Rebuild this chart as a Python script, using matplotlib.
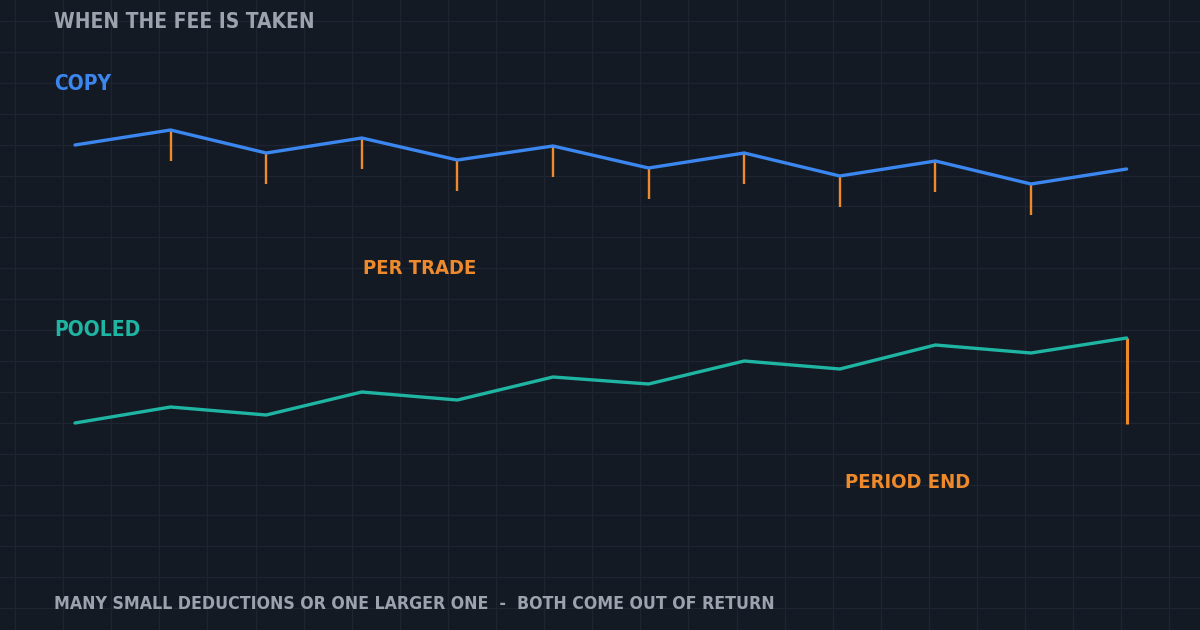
import numpy as np
import matplotlib
matplotlib.use("Agg")
import matplotlib.pyplot as plt

# trade index along the period
trades = np.arange(12)

# copy trading equity (fee taken after each trade)
copy_equity = [485, 500, 477, 492, 470, 484, 462, 477, 454, 469, 446, 461]
copy_fee_idx = [1, 2, 3, 4, 5, 6, 7, 8, 9, 10]
copy_fee = 31

# pooled equity (one fee at period end)
pooled_equity = [207, 223, 215, 238, 230, 253, 246, 269, 261, 285, 277, 292]
pooled_fee = 86

title = "WHEN THE FEE IS TAKEN"
footer = "MANY SMALL DEDUCTIONS OR ONE LARGER ONE  -  BOTH COME OUT OF RETURN"

BG = "#141a24"
GRID = "#1e2430"
GREY = "#9ca3af"
BLUE = "#3b87ef"
TEAL = "#1fb5a3"
ORANGE = "#ee8a2c"

W, H = 1200, 630
fig = plt.figure(figsize=(12, 6.3), dpi=100, facecolor=BG)

# background grid in pixel space
bg = fig.add_axes([0, 0, 1, 1])
bg.set_xlim(0, W)
bg.set_ylim(H, 0)
bg.set_facecolor(BG)
bg.axis("off")
for gx in np.arange(15, W, 48.1):
    bg.axvline(gx, color=GRID, lw=1, zorder=0)
for gy in np.arange(21, H, 30.9):
    bg.axhline(gy, color=GRID, lw=1, zorder=0)

font = dict(family="DejaVu Sans", weight="bold", fontstretch="condensed")
bg.text(54, 22, title, color=GREY, fontsize=15, va="center", ha="left", **font)
bg.text(54, 84, "COPY", color=BLUE, fontsize=15, va="center", ha="left", **font)
bg.text(54, 330, "POOLED", color=TEAL, fontsize=15, va="center", ha="left", **font)
bg.text(363, 268, "PER TRADE", color=ORANGE, fontsize=14.5, va="center", ha="left", **font)
bg.text(845, 483, "PERIOD END", color=ORANGE, fontsize=14.5, va="center", ha="left", **font)
bg.text(54, 604, footer, color=GREY, fontsize=12.7, va="center", ha="left", **font)

# data axes
ax = fig.add_axes([0, 0, 1, 1])
ax.patch.set_alpha(0)
ax.axis("off")
step = 95.6
ax.set_xlim(-75 / step, (W - 75) / step)
ax.set_ylim(0, H)

ax.plot(trades, copy_equity, color=BLUE, lw=2.4, solid_capstyle="round",
        solid_joinstyle="round", zorder=3)
for i in copy_fee_idx:
    ax.vlines(trades[i], copy_equity[i] - copy_fee, copy_equity[i],
              color=ORANGE, lw=1.7, zorder=2)

ax.plot(trades, pooled_equity, color=TEAL, lw=2.4, solid_capstyle="round",
        solid_joinstyle="round", zorder=3)
ax.vlines(trades[-1], pooled_equity[-1] - pooled_fee, pooled_equity[-1],
          color=ORANGE, lw=2.2, zorder=2)

fig.savefig("out.png", dpi=100, facecolor=BG)
